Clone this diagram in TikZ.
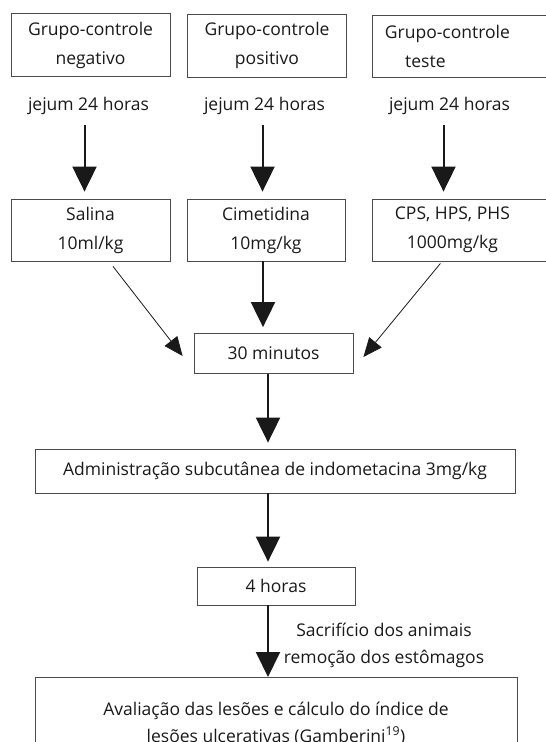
\documentclass[tikz,border=0pt]{standalone}
\usepackage{fontspec}
\setmainfont{Open Sans}
\usetikzlibrary{arrows.meta}

\begin{document}
\begin{tikzpicture}[x=1pt, y=-1pt,
    caixa/.style={draw=black!70, line width=0.8pt, align=center, inner sep=0pt},
    texto/.style={align=center, inner sep=0pt},
    grossa/.style={-{Triangle[width=24pt,length=25pt]}, line width=2pt, black!90},
    fina/.style={-{Triangle[width=16pt,length=19pt]}, line width=0.8pt, black!90},
    font=\fontsize{17.5}{29}\selectfont, text=black!90]
    % Área visível (a caixa final e as da direita saem da figura)
    \useasboundingbox (0,0) rectangle (546,742);

    % 1. Grupos
    \node[caixa, minimum width=159pt, minimum height=63pt] (g1) at (90.5,45) {Grupo-controle\\negativo};
    \node[caixa, minimum width=159pt, minimum height=63pt] (g2) at (267,45.5) {Grupo-controle\\positivo};
    \node[caixa, minimum width=190pt, minimum height=62pt, anchor=west] (g3) at (372,46)
        {Grupo-controle\hspace*{40pt}\\teste\hspace*{84pt}};

    % 2. Jejum
    \node[texto] (j1) at (88.5,106) {jejum 24 horas};
    \node[texto] (j2) at (264.5,106) {jejum 24 horas};
    \node[texto] (j3) at (449.5,106) {jejum 24 horas};

    % 3. Tratamentos
    \node[caixa, minimum width=159pt, minimum height=62pt] (s1) at (90.5,230) {Salina\\10ml/kg};
    \node[caixa, minimum width=158pt, minimum height=62pt] (s2) at (266,230) {Cimetidina\\10mg/kg};
    \node[caixa, minimum width=190pt, minimum height=62pt, anchor=west] (s3) at (372,230)
        {CPS, HPS, PHS\hspace*{30pt}\\1000mg/kg\hspace*{30pt}};

    \draw[grossa, shorten <=10pt, shorten >=7pt] ([xshift=-4pt]j1.south) -- ([xshift=-4pt]j1.south |- s1.north);
    \draw[grossa, shorten <=10pt, shorten >=7pt] ([xshift=-2pt]j2.south) -- ([xshift=-2pt]j2.south |- s2.north);
    \draw[grossa, shorten <=10pt, shorten >=7pt] ([xshift=-6pt]j3.south) -- ([xshift=-6pt]j3.south |- s3.north);

    % 4. Etapas comuns
    \node[caixa, minimum width=159pt, minimum height=40pt] (m30) at (273.5,353.5) {30 minutos};
    \node[caixa, minimum width=480pt, minimum height=44pt] (adm) at (275,471)
        {Administração subcutânea de indometacina 3mg/kg};
    \node[caixa, minimum width=158pt, minimum height=38pt] (h4) at (276,586) {4 horas};
    \node[caixa, minimum width=482pt, minimum height=92pt, anchor=north, font=\fontsize{17.5}{27}\selectfont] (fim) at (276,677)
        {Avaliação das lesões e cálculo do índice de\\lesões ulcerativas (Gamberini\textsuperscript{19})};

    \draw[fina] ([xshift=22.5pt,yshift=-5pt]s1.south) -- ([xshift=-11pt,yshift=-2.5pt]m30.west);
    \draw[grossa, shorten >=6pt] ([xshift=-3pt]s2.south) -- ([xshift=-3pt]s2.south |- m30.north);
    \draw[fina] ([xshift=-27pt,yshift=-2pt]s3.south) -- ([xshift=10pt,yshift=-3.5pt]m30.east);

    \coordinate (eixo) at (268,0);
    \draw[grossa, shorten >=6pt] (m30.south -| eixo) -- (adm.north -| eixo);
    \draw[grossa, shorten >=5pt] (adm.south -| eixo) -- (h4.north -| eixo);
    \draw[grossa] (h4.south -| eixo) -- (fim.north -| eixo);

    \node[texto, font=\fontsize{17.5}{27}\selectfont] (rot) at (384,645.5) {Sacrifício dos animais\\remoção dos estômagos};

\end{tikzpicture}
\end{document}
